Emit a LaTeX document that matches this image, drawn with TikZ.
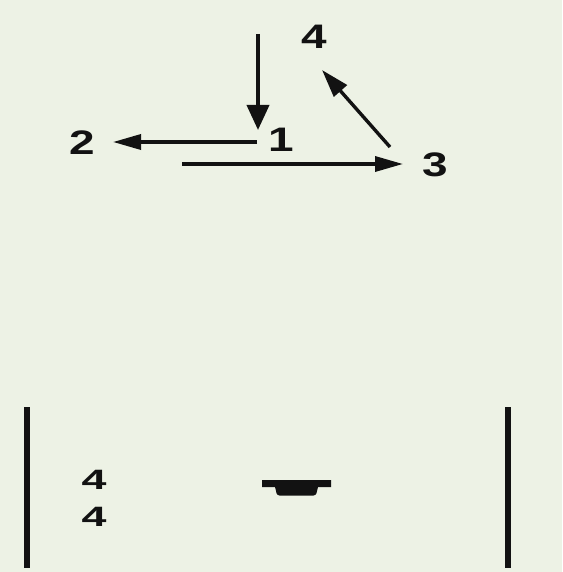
\documentclass[tikz,border=0pt]{standalone}
\usepackage{fontspec}
\setmainfont{Liberation Sans}
\usetikzlibrary{arrows.meta,calc}
\definecolor{paper}{RGB}{237,242,229}
\definecolor{ink}{RGB}{18,18,18}
\begin{document}
\begin{tikzpicture}[x=1pt,y=-1pt,
  lbl/.style={inner sep=0pt,text=ink,xscale=1.35,font=\fontsize{34}{36}\selectfont\bfseries},
  lblb/.style={inner sep=0pt,text=ink,xscale=1.6,font=\fontsize{28}{30}\selectfont\bfseries},
  arrh/.style={draw=ink,line width=3.4pt,-{Triangle[length=28pt,width=15pt]}},
  arrv/.style={draw=ink,line width=3.8pt,-{Triangle[length=25pt,width=22pt]}},
  arrd/.style={draw=ink,line width=3.4pt,-{Triangle[length=28pt,width=17pt]}},
  bar/.style={draw=ink,line width=6pt}]
\fill[paper] (0,0) rectangle (562,572);
\useasboundingbox (0,0) rectangle (562,572);
% top graph
\node[lbl] (n1) at (281,140) {1};
\node[lbl] (n2) at (82,143) {2};
\node[lbl] (n3) at (435,165) {3};
\node[lbl] (n4) at (314,37) {4};
\coordinate (c1) at (258,34);
\coordinate (c3) at (182,164);
\draw[arrv] (c1) -- ($(n1)+(-23,-10)$);
\draw[arrh] ($(n1)+(-24,2)$) -- ($(n2)+(31,-1)$);
\draw[arrh] (c3) -- ($(n3)+(-32,-1)$);
\draw[arrd] ($(n3)+(-45,-18)$) -- ($(n4)+(8,33)$);
% bottom
\coordinate (l1) at (27,407);
\coordinate (l2) at (27,568);
\coordinate (r1) at (508,407);
\coordinate (r2) at (508,568);
\draw[bar] (l1) -- (l2);
\draw[bar] (r1) -- (r2);
\node[lblb] (b1) at (94,480) {4};
\node[lblb] (b2) at (94,517) {4};
\fill[ink] (262,480) -- (331,480) -- (331,487) -- (318,487) -- (317,491) [rounded corners=2.5pt] -- (316,495.5) -- (277,495.5) [sharp corners] -- (276,491) -- (275,487) -- (262,487) -- cycle;
\end{tikzpicture}
\end{document}
